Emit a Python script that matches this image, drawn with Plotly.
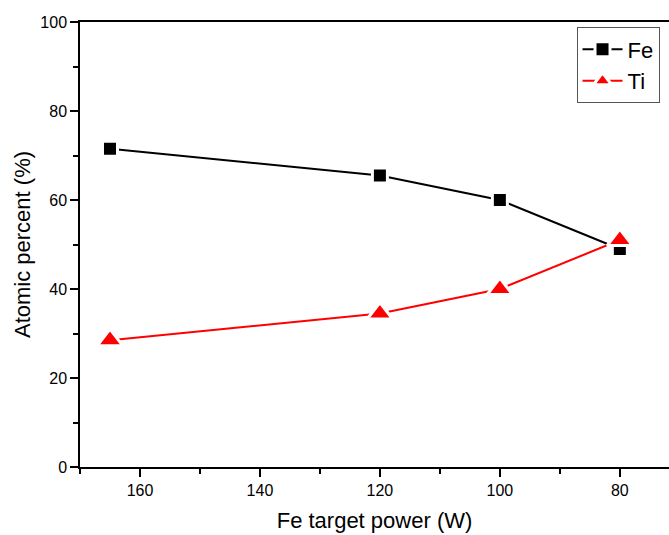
import plotly.graph_objects as go

power = [165, 120, 100, 80]
fe = [71.5, 65.5, 60.0, 49.0]
ti = [28.5, 34.5, 40.0, 51.0]
x_ticks = [160, 140, 120, 100, 80]
y_ticks = [0, 20, 40, 60, 80, 100]

font = "Liberation Sans, Arial, sans-serif"

fig = go.Figure()
fig.add_trace(go.Scatter(
    x=power, y=fe, name="Fe", mode="lines+markers",
    line=dict(color="black", width=2),
    marker=dict(symbol="square", size=15, color="black",
                line=dict(color="white", width=3)),
))
fig.add_trace(go.Scatter(
    x=power, y=ti, name="Ti", mode="lines+markers",
    line=dict(color="#ff0000", width=2),
    marker=dict(symbol="triangle-up", size=22, color="#ff0000",
                line=dict(color="white", width=3)),
))

fig.update_layout(
    width=669, height=535,
    margin=dict(l=80, r=0, t=22, b=68),
    paper_bgcolor="white", plot_bgcolor="white",
    font=dict(family=font, color="black"),
    showlegend=True,
    legend=dict(
        x=0.843, y=0.988, xanchor="left", yanchor="top",
        bordercolor="#555555", borderwidth=1, bgcolor="white",
        font=dict(size=22, family=font, color="black"), itemwidth=40,
        tracegroupgap=0, traceorder="normal",
    ),
    xaxis=dict(
        range=[170, 71.8], tickvals=x_ticks,
        ticks="outside", ticklen=8, tickwidth=1.5, tickcolor="black",
        minor=dict(dtick=10, ticks="outside", ticklen=5, tickwidth=1.5, tickcolor="black"),
        showline=True, linecolor="black", linewidth=1.5, mirror=True,
        showgrid=False, zeroline=False,
        tickfont=dict(size=16, family=font, color="black"),
        title=dict(text="Fe target power (W)", font=dict(size=22, family=font, color="black"), standoff=15),
    ),
    yaxis=dict(
        range=[0, 100], tickvals=y_ticks,
        ticks="outside", ticklen=8, tickwidth=1.5, tickcolor="black",
        minor=dict(dtick=10, ticks="outside", ticklen=5, tickwidth=1.5, tickcolor="black"),
        showline=True, linecolor="black", linewidth=1.5,
        showgrid=False, zeroline=False,
        tickfont=dict(size=16, family=font, color="black"),
        title=dict(text="Atomic percent (%)", font=dict(size=22, family=font, color="black"), standoff=4),
    ),
)

fig.write_html("out.html")
